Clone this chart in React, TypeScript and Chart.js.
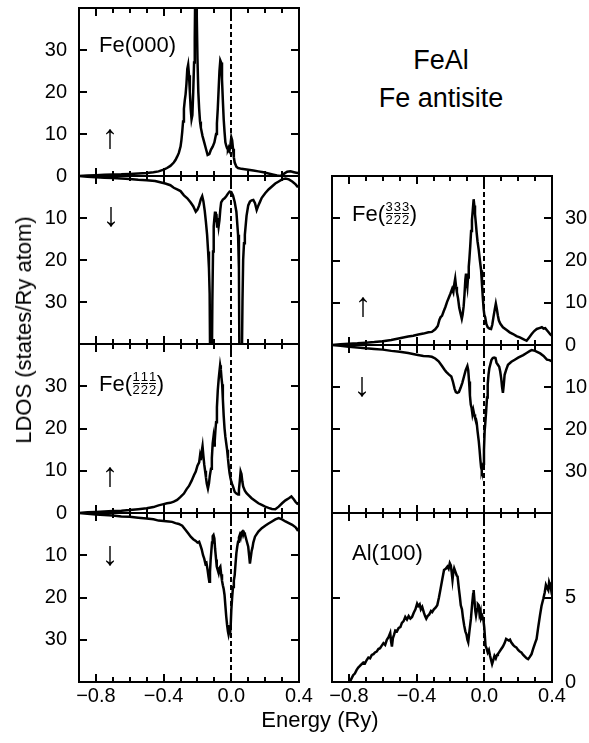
import React, { useEffect, useRef } from 'react';
import { Chart, registerables } from 'chart.js';

Chart.register(...registerables);

// ---------- data ----------
const xTickValues = [-0.8, -0.4, 0.0, 0.4];
const xTickLabels = ['−0.8', '−0.4', '0.0', '0.4'];
const xMinorTicks = [-0.7, -0.6, -0.5, -0.3, -0.2, -0.1, 0.1, 0.2, 0.3];

const fe000Up: [number, number][] = [
  [-0.9, 0], [-0.85, 0.1], [-0.8, 0.2], [-0.75, 0.3], [-0.7, 0.35], [-0.65, 0.4], [-0.6, 0.5], [-0.55, 0.6],
  [-0.5, 0.7], [-0.46, 0.9], [-0.43, 1.1], [-0.4, 1.5], [-0.38, 1.9], [-0.36, 2.4], [-0.34, 3.2], [-0.33, 3.8],
  [-0.32, 4.6], [-0.31, 5.5], [-0.3, 7], [-0.295, 8.5], [-0.29, 10.5], [-0.285, 13], [-0.28, 16], [-0.275, 18],
  [-0.27, 19.5], [-0.265, 22], [-0.26, 25.5], [-0.255, 26.5], [-0.25, 24], [-0.245, 20], [-0.24, 16], [-0.235, 13.5],
  [-0.23, 14.5], [-0.225, 20], [-0.22, 27], [-0.216, 33], [-0.213, 45], [-0.21, 45], [-0.207, 45], [-0.204, 38],
  [-0.2, 28], [-0.195, 20], [-0.19, 16], [-0.185, 13], [-0.18, 11.5], [-0.17, 9.5], [-0.16, 8], [-0.15, 6.5],
  [-0.14, 5], [-0.13, 5.2], [-0.12, 6.3], [-0.11, 7], [-0.1, 8], [-0.09, 10], [-0.085, 12.5], [-0.08, 16],
  [-0.075, 20.5], [-0.07, 25], [-0.065, 27.5], [-0.06, 27], [-0.055, 23], [-0.05, 18], [-0.045, 13.5], [-0.04, 10.5],
  [-0.035, 8], [-0.03, 7.2], [-0.025, 6.6], [-0.02, 6.3], [-0.015, 6.8], [-0.01, 6.2], [-0.005, 7.5], [0.0, 9.2],
  [0.005, 8.5], [0.01, 6.5], [0.015, 4.5], [0.02, 3.2], [0.03, 2.2], [0.04, 1.9], [0.06, 1.7], [0.08, 1.6],
  [0.1, 1.5], [0.13, 1.3], [0.16, 1.1], [0.19, 0.9], [0.22, 0.6], [0.25, 0.3], [0.27, 0.1], [0.29, 0],
  [0.31, 0.5], [0.33, 1.0], [0.35, 1.1], [0.37, 0.9], [0.39, 0.7], [0.4, 0.8],
];

const fe000Down: [number, number][] = [
  [-0.9, 0], [-0.85, 0.2], [-0.8, 0.3], [-0.75, 0.4], [-0.7, 0.5], [-0.65, 0.6], [-0.6, 0.7], [-0.55, 0.9],
  [-0.5, 1.0], [-0.45, 1.2], [-0.42, 1.5], [-0.39, 1.8], [-0.36, 2.2], [-0.34, 2.8], [-0.32, 3.2], [-0.3, 3.6],
  [-0.28, 4.6], [-0.26, 5.3], [-0.24, 6.3], [-0.225, 7.2], [-0.21, 8.5], [-0.2, 8.0], [-0.19, 7.0], [-0.18, 5.5],
  [-0.172, 4.8], [-0.165, 6.0], [-0.157, 8.3], [-0.15, 11], [-0.143, 14], [-0.137, 18], [-0.132, 22], [-0.128, 28],
  [-0.125, 45], [-0.115, 45], [-0.112, 30], [-0.108, 18], [-0.104, 12], [-0.1, 10], [-0.096, 8.5], [-0.092, 11],
  [-0.088, 9], [-0.084, 12], [-0.08, 10], [-0.075, 12], [-0.07, 10.5], [-0.065, 8], [-0.06, 6.3], [-0.05, 5.6],
  [-0.04, 5.3], [-0.03, 4.8], [-0.02, 4.2], [-0.01, 3.7], [0.0, 3.8], [0.01, 4.6], [0.02, 6.2], [0.03, 8.5],
  [0.04, 14], [0.045, 22], [0.048, 45], [0.062, 45], [0.066, 30], [0.07, 20], [0.075, 16], [0.08, 14],
  [0.09, 9.5], [0.1, 7], [0.11, 6.1], [0.12, 5.8], [0.13, 5.7], [0.14, 6.5], [0.15, 8.1], [0.16, 7.0],
  [0.17, 6.1], [0.18, 5.2], [0.2, 4.1], [0.22, 3.2], [0.24, 2.5], [0.26, 1.8], [0.28, 1.3], [0.3, 0.8],
  [0.32, 0.6], [0.34, 0.8], [0.36, 1.3], [0.38, 2.0], [0.39, 2.5], [0.4, 2.3],
];

const fe111Up: [number, number][] = [
  [-0.9, 0], [-0.85, 0.15], [-0.8, 0.25], [-0.75, 0.35], [-0.7, 0.45], [-0.65, 0.55], [-0.6, 0.7], [-0.55, 0.9],
  [-0.5, 1.1], [-0.46, 1.4], [-0.43, 1.8], [-0.4, 2.1], [-0.38, 2.3], [-0.36, 2.4], [-0.34, 2.7], [-0.32, 3.1],
  [-0.3, 3.8], [-0.28, 4.6], [-0.265, 5.6], [-0.25, 6.4], [-0.235, 7.6], [-0.22, 9.0], [-0.21, 9.8], [-0.2, 11.2],
  [-0.19, 12], [-0.185, 13.5], [-0.18, 12.5], [-0.175, 14.5], [-0.17, 15.8], [-0.165, 13.5], [-0.16, 11.5], [-0.155, 10],
  [-0.15, 8.5], [-0.145, 7], [-0.138, 5.8], [-0.132, 7], [-0.127, 8.8], [-0.12, 10.5], [-0.115, 13], [-0.11, 16.5],
  [-0.106, 17.8], [-0.102, 16], [-0.098, 17], [-0.094, 19.5], [-0.09, 21.5], [-0.085, 25], [-0.08, 29], [-0.075, 31.5],
  [-0.07, 33.5], [-0.066, 35], [-0.062, 34], [-0.058, 32], [-0.054, 30.5], [-0.05, 27], [-0.045, 23], [-0.04, 20],
  [-0.035, 18], [-0.03, 16.5], [-0.025, 15], [-0.02, 13], [-0.015, 11], [-0.01, 9.4], [-0.005, 8.3], [0.0, 7.4],
  [0.005, 6.8], [0.01, 6.3], [0.02, 5.0], [0.03, 4.6], [0.04, 4.4], [0.045, 5.5], [0.05, 7.5], [0.055, 9.8],
  [0.06, 9.2], [0.065, 7.5], [0.07, 6.3], [0.08, 5.3], [0.09, 4.7], [0.1, 4.3], [0.12, 3.5], [0.14, 2.9],
  [0.16, 2.3], [0.18, 1.9], [0.2, 1.5], [0.22, 1.2], [0.24, 0.95], [0.26, 0.9], [0.28, 1.5], [0.3, 2.3],
  [0.32, 3.0], [0.34, 3.5], [0.355, 3.9], [0.37, 3.2], [0.38, 2.6], [0.39, 2.2], [0.4, 2.4],
];

const fe111Down: [number, number][] = [
  [-0.9, 0], [-0.85, 0.2], [-0.8, 0.35], [-0.75, 0.5], [-0.7, 0.6], [-0.65, 0.8], [-0.6, 0.9], [-0.55, 1.1],
  [-0.5, 1.3], [-0.46, 1.5], [-0.43, 1.8], [-0.4, 1.9], [-0.37, 2.0], [-0.35, 2.1], [-0.33, 2.4], [-0.31, 2.6],
  [-0.29, 3.0], [-0.27, 4.0], [-0.255, 4.8], [-0.24, 5.6], [-0.225, 6.2], [-0.21, 6.6], [-0.2, 7.0], [-0.19, 6.8],
  [-0.183, 7.6], [-0.175, 8.6], [-0.167, 10], [-0.16, 10.8], [-0.153, 12], [-0.147, 11.8], [-0.14, 13.5], [-0.135, 15],
  [-0.13, 16.3], [-0.126, 14], [-0.122, 11], [-0.118, 9], [-0.114, 7], [-0.11, 5.5], [-0.105, 5.2], [-0.1, 6],
  [-0.096, 8.4], [-0.09, 11], [-0.086, 12.7], [-0.08, 13.5], [-0.075, 14.2], [-0.07, 13], [-0.065, 12.7], [-0.06, 14.5],
  [-0.055, 16], [-0.05, 17.1], [-0.045, 18], [-0.04, 19.4], [-0.035, 22], [-0.03, 24.5], [-0.025, 26.5], [-0.02, 28],
  [-0.016, 28.8], [-0.012, 28], [-0.008, 28.8], [-0.004, 27], [0.0, 23], [0.005, 20], [0.01, 17.5], [0.015, 16],
  [0.02, 14.7], [0.025, 12], [0.03, 9.5], [0.035, 8.0], [0.04, 6.8], [0.045, 5.8], [0.05, 5.2], [0.055, 5.8],
  [0.06, 4.6], [0.065, 4.4], [0.07, 5.2], [0.075, 4.6], [0.08, 5.0], [0.09, 6.5], [0.1, 8.0], [0.105, 10],
  [0.11, 12], [0.115, 10.5], [0.12, 9], [0.125, 8.2], [0.13, 7], [0.14, 5.6], [0.16, 4.4], [0.18, 3.6],
  [0.2, 3.0], [0.22, 2.5], [0.24, 2.0], [0.26, 1.5], [0.28, 1.2], [0.3, 1.5], [0.32, 2.0], [0.34, 2.4],
  [0.36, 2.8], [0.38, 3.4], [0.39, 4.0], [0.4, 3.6],
];

const fe333Up: [number, number][] = [
  [-0.9, 0], [-0.85, 0.2], [-0.8, 0.3], [-0.75, 0.4], [-0.7, 0.55], [-0.65, 0.7], [-0.6, 0.9], [-0.55, 1.2],
  [-0.5, 1.6], [-0.45, 2.0], [-0.42, 2.2], [-0.39, 2.5], [-0.36, 2.7], [-0.33, 3.0], [-0.31, 3.1], [-0.29, 3.7],
  [-0.275, 4.5], [-0.265, 6.0], [-0.258, 6.6], [-0.25, 6.9], [-0.24, 8.0], [-0.23, 9.0], [-0.22, 10.2], [-0.21, 11.2],
  [-0.2, 12.2], [-0.19, 13.3], [-0.183, 12.5], [-0.177, 14.5], [-0.172, 15.7], [-0.167, 13.8], [-0.162, 12.5], [-0.155, 11],
  [-0.148, 8.8], [-0.14, 7.4], [-0.133, 6.2], [-0.128, 7.2], [-0.122, 9.2], [-0.117, 12], [-0.112, 15.5], [-0.108, 16.9],
  [-0.104, 15], [-0.1, 13.8], [-0.096, 16], [-0.092, 18.5], [-0.088, 20.5], [-0.083, 23.5], [-0.078, 27], [-0.073, 29.6],
  [-0.068, 32], [-0.063, 34.5], [-0.059, 33], [-0.055, 31], [-0.05, 28.8], [-0.045, 26.5], [-0.04, 24.5], [-0.033, 22.5],
  [-0.026, 20], [-0.019, 17.7], [-0.014, 14.5], [-0.009, 11.3], [-0.004, 8.5], [0.0, 7.2], [0.005, 6.6], [0.012, 5],
  [0.02, 4.2], [0.03, 3.9], [0.04, 3.8], [0.047, 4.8], [0.054, 6.6], [0.062, 8.5], [0.068, 9.8], [0.074, 8.5],
  [0.08, 7], [0.086, 5.8], [0.095, 5.0], [0.11, 4.2], [0.13, 3.6], [0.15, 3.0], [0.17, 2.6], [0.19, 2.1],
  [0.21, 1.8], [0.23, 1.4], [0.25, 1.0], [0.265, 1.8], [0.28, 2.6], [0.295, 3.3], [0.31, 3.8], [0.325, 4.0],
  [0.34, 4.2], [0.35, 3.9], [0.36, 4.0], [0.37, 3.5], [0.38, 3.0], [0.39, 2.5], [0.4, 2.2],
];

const fe333Down: [number, number][] = [
  [-0.9, 0], [-0.85, 0.2], [-0.8, 0.4], [-0.75, 0.6], [-0.7, 0.8], [-0.65, 0.95], [-0.6, 1.1], [-0.55, 1.4],
  [-0.5, 1.6], [-0.45, 1.9], [-0.4, 2.3], [-0.36, 2.6], [-0.33, 2.7], [-0.31, 2.8], [-0.29, 3.2], [-0.27, 3.9],
  [-0.25, 5.0], [-0.235, 5.9], [-0.225, 6.4], [-0.21, 7.0], [-0.195, 7.5], [-0.185, 8.8], [-0.175, 10.5], [-0.168, 11.2],
  [-0.16, 11.4], [-0.15, 11.2], [-0.14, 10.2], [-0.13, 9.0], [-0.12, 7.5], [-0.11, 6.0], [-0.1, 5.0], [-0.095, 6.0],
  [-0.09, 8.7], [-0.085, 12], [-0.08, 14.2], [-0.075, 15], [-0.07, 16.5], [-0.065, 15.5], [-0.06, 16.5], [-0.055, 17.3],
  [-0.05, 17.5], [-0.045, 18.5], [-0.04, 20.5], [-0.033, 22.8], [-0.028, 25], [-0.023, 27.5], [-0.019, 29.1], [-0.015, 29.8],
  [-0.01, 29], [-0.006, 28.3], [-0.002, 25], [0.002, 20.5], [0.006, 18.5], [0.011, 15.7], [0.016, 12.5], [0.02, 9.4],
  [0.025, 7], [0.03, 5.5], [0.035, 4.7], [0.042, 3.6], [0.05, 3.1], [0.058, 3.0], [0.066, 3.1], [0.072, 4.2],
  [0.08, 4.7], [0.088, 5.2], [0.094, 6.3], [0.1, 8], [0.105, 10], [0.11, 11.4], [0.115, 9.5], [0.12, 7.1],
  [0.13, 5.8], [0.14, 4.7], [0.16, 4.0], [0.18, 3.5], [0.2, 3.0], [0.23, 2.4], [0.25, 1.9], [0.27, 1.4],
  [0.28, 1.2], [0.3, 1.4], [0.33, 2.0], [0.35, 2.6], [0.37, 3.5], [0.385, 3.6], [0.4, 3.9],
];

const al100: [number, number][] = [
  [-0.795, 0], [-0.785, 0.2], [-0.775, 0.4], [-0.765, 0.5], [-0.755, 0.7], [-0.745, 0.85], [-0.735, 0.95], [-0.725, 1.06],
  [-0.715, 1.15], [-0.705, 1.1], [-0.695, 1.3], [-0.685, 1.45], [-0.675, 1.4], [-0.665, 1.6], [-0.655, 1.65], [-0.646, 1.75],
  [-0.636, 1.8], [-0.626, 1.95], [-0.616, 2.0], [-0.606, 2.15], [-0.596, 2.3], [-0.586, 2.2], [-0.576, 2.5], [-0.566, 2.65],
  [-0.556, 2.9], [-0.551, 2.4], [-0.546, 2.1], [-0.54, 2.6], [-0.533, 2.8], [-0.526, 3.05], [-0.516, 3.0], [-0.506, 3.2],
  [-0.496, 3.25], [-0.487, 3.5], [-0.477, 3.6], [-0.467, 3.85], [-0.457, 3.7], [-0.447, 3.9], [-0.437, 3.75], [-0.427, 3.85],
  [-0.417, 4.1], [-0.407, 4.3], [-0.397, 4.64], [-0.39, 4.5], [-0.382, 4.6], [-0.375, 4.3], [-0.367, 4.44], [-0.357, 4.1],
  [-0.35, 3.9], [-0.343, 3.75], [-0.335, 3.9], [-0.325, 4.0], [-0.315, 4.2], [-0.308, 4.14], [-0.298, 4.3], [-0.288, 4.4],
  [-0.278, 4.54], [-0.268, 5.0], [-0.258, 5.54], [-0.248, 6.1], [-0.238, 6.63], [-0.228, 6.7], [-0.218, 6.83], [-0.211, 6.7],
  [-0.204, 7.03], [-0.198, 6.9], [-0.193, 6.5], [-0.188, 6.04], [-0.183, 6.5], [-0.178, 6.73], [-0.17, 6.5], [-0.163, 6.3],
  [-0.158, 6.24], [-0.15, 5.5], [-0.144, 5.0], [-0.139, 4.54], [-0.132, 4.3], [-0.126, 3.8], [-0.119, 3.35], [-0.112, 3.0],
  [-0.105, 2.8], [-0.1, 2.5], [-0.095, 2.35], [-0.088, 3.0], [-0.079, 3.75], [-0.072, 4.6], [-0.066, 5.2], [-0.063, 5.44],
  [-0.058, 4.8], [-0.053, 4.2], [-0.049, 3.94], [-0.043, 4.3], [-0.038, 4.6], [-0.033, 4.54], [-0.028, 4.0], [-0.022, 4.2],
  [-0.019, 3.75], [-0.012, 3.9], [-0.005, 3.65], [0.0, 3.2], [0.007, 2.15], [0.013, 2.0], [0.02, 1.75], [0.027, 1.9],
  [0.034, 1.55], [0.04, 1.3], [0.046, 1.06], [0.053, 1.3], [0.06, 1.55], [0.068, 1.4], [0.075, 1.6], [0.08, 1.65],
  [0.09, 1.8], [0.1, 1.95], [0.11, 2.1], [0.12, 2.3], [0.129, 2.55], [0.137, 2.5], [0.145, 2.45], [0.152, 2.5],
  [0.159, 2.35], [0.17, 2.2], [0.18, 2.1], [0.189, 2.05], [0.2, 1.9], [0.21, 1.8], [0.219, 1.75], [0.23, 1.6],
  [0.24, 1.5], [0.25, 1.4], [0.259, 1.35], [0.27, 1.5], [0.279, 1.65], [0.29, 2.0], [0.3, 2.3], [0.309, 2.55],
  [0.318, 3.2], [0.329, 3.94], [0.338, 4.5], [0.349, 4.94], [0.357, 5.3], [0.364, 5.74], [0.37, 5.6], [0.378, 5.44],
  [0.383, 5.9], [0.388, 5.74], [0.394, 5.5], [0.4, 5.14],
];

const yLabelsFull = [0, 10, 20, 30];
const yLabelsNoZero = [10, 20, 30];
const yTicksFe = [10, 20, 30];
const yLabelsAl = [0, 5];
const yTicksAl = [5];

// ---------- layout ----------
const FONT = '"Liberation Sans", Arial, Helvetica, sans-serif';
const PAD = 10;
const AXW = 50;

type PanelCfg = {
  data: [number, number][];
  left: number; top: number; width: number; height: number;
  side: 'left' | 'right';
  down: boolean;
  yMax: number;
  yLabels: number[];
  yTicks: number[];
  showX: boolean;
};

const panels: PanelCfg[] = [
  { data: fe000Up, left: 79, top: 8, width: 220, height: 168, side: 'left', down: false, yMax: 40, yLabels: yLabelsFull, yTicks: yTicksFe, showX: false },
  { data: fe000Down, left: 79, top: 176, width: 220, height: 168, side: 'left', down: true, yMax: 40, yLabels: yLabelsNoZero, yTicks: yTicksFe, showX: false },
  { data: fe111Up, left: 79, top: 344, width: 220, height: 169, side: 'left', down: false, yMax: 40, yLabels: yLabelsFull, yTicks: yTicksFe, showX: false },
  { data: fe111Down, left: 79, top: 513, width: 220, height: 169, side: 'left', down: true, yMax: 40, yLabels: yLabelsNoZero, yTicks: yTicksFe, showX: true },
  { data: fe333Up, left: 332, top: 176, width: 220, height: 169, side: 'right', down: false, yMax: 40, yLabels: yLabelsFull, yTicks: yTicksFe, showX: false },
  { data: fe333Down, left: 332, top: 345, width: 220, height: 168, side: 'right', down: true, yMax: 40, yLabels: yLabelsNoZero, yTicks: yTicksFe, showX: false },
  { data: al100, left: 332, top: 513, width: 220, height: 169, side: 'right', down: false, yMax: 10, yLabels: yLabelsAl, yTicks: yTicksAl, showX: true },
];

const framePlugin = {
  id: 'panelFrame',
  beforeDatasetsDraw(chart: any) {
    const { ctx, chartArea: a, scales } = chart;
    const px = Math.round(scales.x.getPixelForValue(0));
    ctx.save();
    ctx.strokeStyle = '#000';
    ctx.lineWidth = 2;
    ctx.setLineDash([5, 3]);
    ctx.beginPath();
    ctx.moveTo(px, a.top);
    ctx.lineTo(px, a.bottom);
    ctx.stroke();
    ctx.restore();
  },
  afterDatasetsDraw(chart: any) {
    const { ctx, chartArea: a, scales } = chart;
    const o = chart.options.plugins.panelFrame || {};
    ctx.save();
    ctx.strokeStyle = '#000';
    ctx.lineWidth = 2;
    ctx.setLineDash([]);
    ctx.strokeRect(a.left, a.top, a.right - a.left, a.bottom - a.top);
    ctx.beginPath();
    const drawX = (v: number, len: number) => {
      const px = Math.round(scales.x.getPixelForValue(v));
      if (px <= a.left + 1 || px >= a.right - 1) return;
      ctx.moveTo(px, a.top);
      ctx.lineTo(px, a.top + len);
      ctx.moveTo(px, a.bottom);
      ctx.lineTo(px, a.bottom - len);
    };
    xTickValues.forEach((v) => drawX(v, 8));
    xMinorTicks.forEach((v) => drawX(v, 5));
    (o.yTicks || []).forEach((v: number) => {
      const py = Math.round(scales.y.getPixelForValue(v));
      ctx.moveTo(a.left, py);
      ctx.lineTo(a.left + 8, py);
      ctx.moveTo(a.right, py);
      ctx.lineTo(a.right - 8, py);
    });
    ctx.stroke();
    ctx.restore();
  },
};

function Panel({ cfg }: { cfg: PanelCfg }) {
  const ref = useRef<HTMLCanvasElement | null>(null);
  const xH = cfg.showX ? 40 : 0;
  const padL = cfg.side === 'left' ? PAD : 20;
  const padR = cfg.side === 'left' ? 20 : PAD;
  const cw = padL + padR + AXW + cfg.width;
  const ch = PAD + cfg.height + xH + PAD;
  const cLeft = cfg.side === 'left' ? cfg.left - AXW - padL : cfg.left - padL;
  const cTop = cfg.top - PAD;

  useEffect(() => {
    if (!ref.current) return;
    const tickFont = { family: FONT, size: 20 };
    const chart = new Chart(ref.current, {
      type: 'line',
      data: {
        datasets: [
          {
            data: cfg.data.map(([x, y]) => ({ x, y })),
            borderColor: '#000',
            borderWidth: 2.5,
            pointRadius: 0,
            fill: false,
            tension: 0,
            clip: 0,
          } as any,
        ],
      },
      options: {
        animation: false,
        responsive: false,
        events: [],
        layout: { padding: { left: padL, right: padR, top: PAD, bottom: PAD } },
        plugins: {
          legend: { display: false },
          tooltip: { enabled: false },
          panelFrame: { yTicks: cfg.yTicks },
        } as any,
        scales: {
          x: {
            type: 'linear',
            min: -0.9,
            max: 0.4,
            display: cfg.showX,
            position: 'bottom',
            grid: { display: false, drawTicks: false },
            border: { display: false },
            ticks: {
              autoSkip: false,
              maxRotation: 0,
              padding: 2,
              color: '#000',
              font: tickFont,
              callback: (_v: any, i: number) => xTickLabels[i],
            },
            afterBuildTicks: (s: any) => {
              s.ticks = xTickValues.map((value) => ({ value }));
            },
            afterFit: (s: any) => {
              s.height = xH;
              s.paddingLeft = 0;
              s.paddingRight = 0;
              s.paddingTop = 0;
              s.paddingBottom = 0;
            },
          },
          y: {
            type: 'linear',
            min: 0,
            max: cfg.yMax,
            reverse: cfg.down,
            position: cfg.side,
            grid: { display: false, drawTicks: false },
            border: { display: false },
            ticks: {
              autoSkip: false,
              padding: cfg.side === 'left' ? 12 : 13,
              color: '#000',
              font: tickFont,
              callback: (_v: any, i: number) => String(cfg.yLabels[i]),
            },
            afterBuildTicks: (s: any) => {
              s.ticks = cfg.yLabels.map((value) => ({ value }));
            },
            afterFit: (s: any) => {
              s.width = AXW;
              s.paddingLeft = 0;
              s.paddingRight = 0;
              s.paddingTop = 0;
              s.paddingBottom = 0;
            },
          },
        },
      } as any,
      plugins: [framePlugin],
    });
    return () => chart.destroy();
  }, []);

  return (
    <canvas
      ref={ref}
      width={cw}
      height={ch}
      style={{ position: 'absolute', left: cLeft, top: cTop, width: cw, height: ch }}
    />
  );
}

function Frac({ n, d }: { n: string; d: string }) {
  return (
    <span
      style={{
        display: 'inline-flex',
        flexDirection: 'column',
        alignItems: 'center',
        fontSize: 13,
        lineHeight: '12px',
        margin: '0 0.5px',
      }}
    >
      <span>{n}</span>
      <span style={{ borderTop: '1.5px solid #000', width: '100%', textAlign: 'center' }}>{d}</span>
    </span>
  );
}

function Label({ left, top, children }: { left: number; top: number; children: React.ReactNode }) {
  return (
    <div
      style={{
        position: 'absolute',
        left,
        top,
        fontFamily: FONT,
        fontSize: 22,
        lineHeight: '22px',
        display: 'flex',
        alignItems: 'center',
        whiteSpace: 'nowrap',
        color: '#000',
      }}
    >
      {children}
    </div>
  );
}

function Arrow({ x, y, up }: { x: number; y: number; up: boolean }) {
  return (
    <div
      style={{
        position: 'absolute',
        left: x,
        top: y,
        transform: 'translate(-50%, -50%)',
        fontFamily: FONT,
        fontSize: 34,
        lineHeight: '34px',
        color: '#000',
      }}
    >
      {up ? '↑' : '↓'}
    </div>
  );
}

export default function App() {
  return (
    <div
      style={{
        position: 'absolute',
        left: 0,
        top: 0,
        width: 589,
        height: 743,
        overflow: 'hidden',
        background: '#fff',
        fontFamily: FONT,
      }}
    >
      {panels.map((p, i) => (
        <Panel key={i} cfg={p} />
      ))}

      <Label left={99} top={34}>
        <span>Fe(000)</span>
      </Label>
      <Label left={99} top={371}>
        <span>Fe(</span>
        <Frac n="1" d="2" />
        <Frac n="1" d="2" />
        <Frac n="1" d="2" />
        <span>)</span>
      </Label>
      <Label left={352} top={201}>
        <span>Fe(</span>
        <Frac n="3" d="2" />
        <Frac n="3" d="2" />
        <Frac n="3" d="2" />
        <span>)</span>
      </Label>
      <Label left={352} top={542}>
        <span>Al(100)</span>
      </Label>

      <Arrow x={110} y={136} up={true} />
      <Arrow x={111} y={214} up={false} />
      <Arrow x={110} y={474} up={true} />
      <Arrow x={110} y={553} up={false} />
      <Arrow x={363} y={304} up={true} />
      <Arrow x={362} y={384} up={false} />

      <div
        style={{
          position: 'absolute',
          left: 441,
          top: 47,
          transform: 'translateX(-50%)',
          fontSize: 27,
          lineHeight: '27px',
          whiteSpace: 'nowrap',
        }}
      >
        FeAl
      </div>
      <div
        style={{
          position: 'absolute',
          left: 441,
          top: 85,
          transform: 'translateX(-50%)',
          fontSize: 27,
          lineHeight: '27px',
          whiteSpace: 'nowrap',
        }}
      >
        Fe antisite
      </div>

      <div
        style={{
          position: 'absolute',
          left: 320,
          top: 709,
          transform: 'translateX(-50%)',
          fontSize: 22,
          lineHeight: '22px',
          whiteSpace: 'nowrap',
        }}
      >
        Energy (Ry)
      </div>
      <div
        style={{
          position: 'absolute',
          left: 24,
          top: 330,
          transform: 'translate(-50%, -50%) rotate(-90deg)',
          fontSize: 22,
          lineHeight: '22px',
          whiteSpace: 'nowrap',
        }}
      >
        LDOS (states/Ry atom)
      </div>
    </div>
  );
}
